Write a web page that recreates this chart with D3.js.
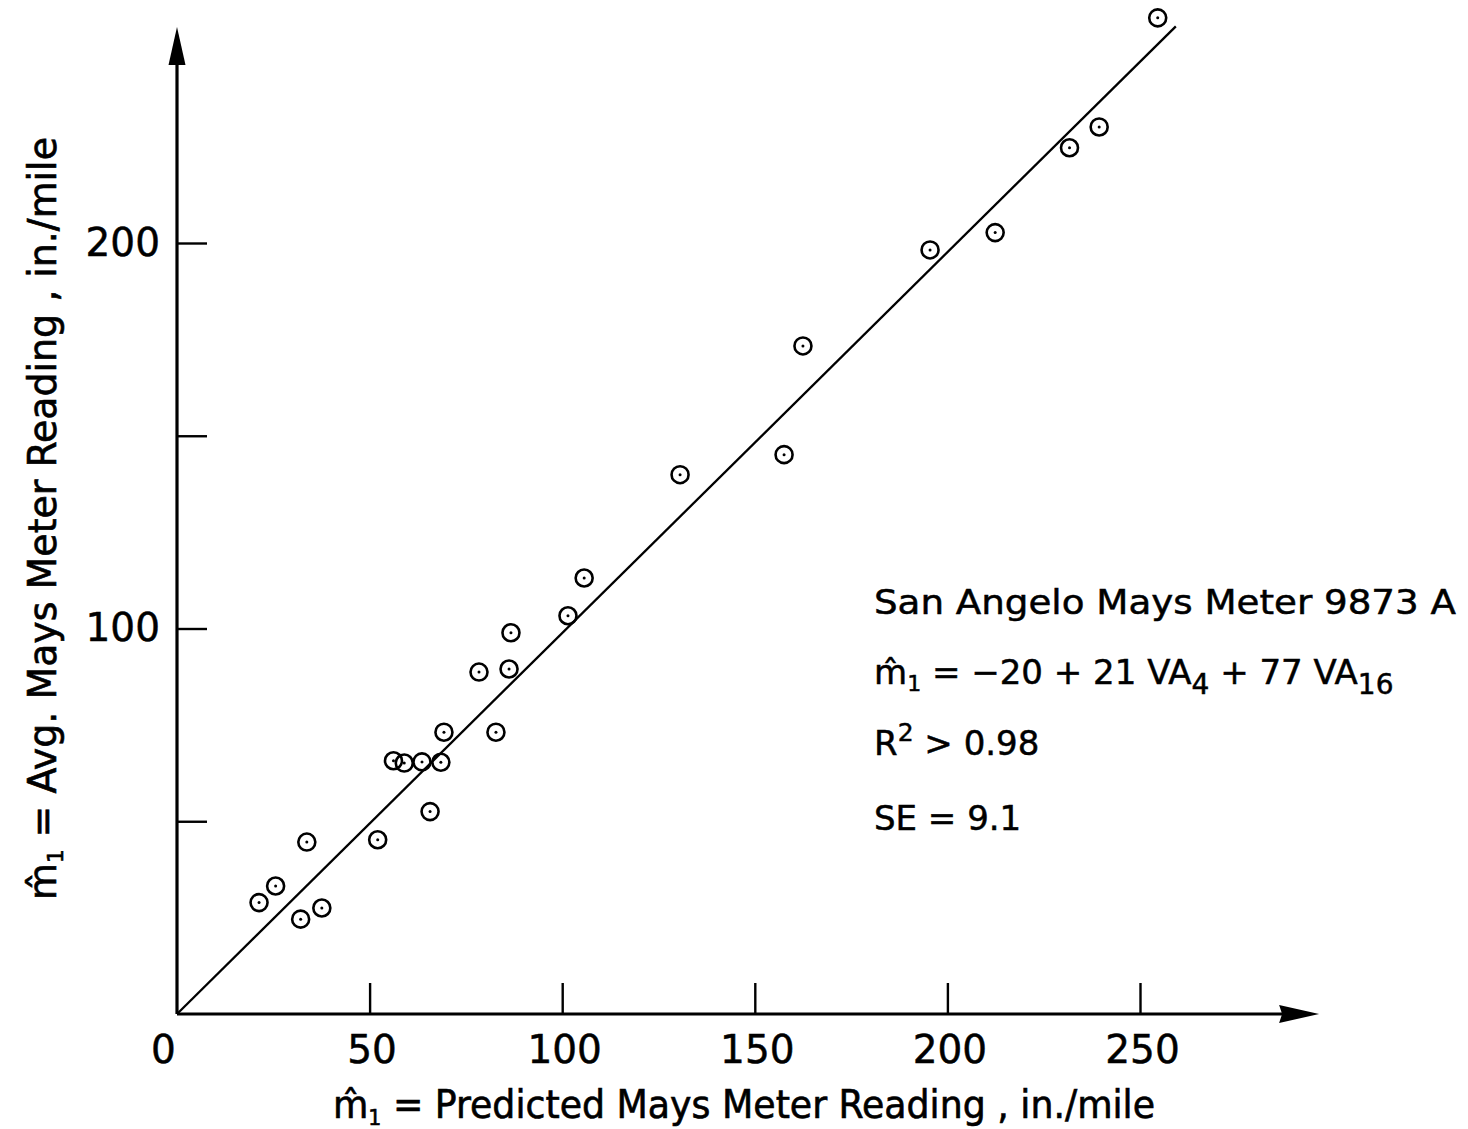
<!DOCTYPE html>
<html>
<head>
<meta charset="utf-8">
<script src="https://cdn.jsdelivr.net/npm/d3@7"></script>
<style>
  body { margin: 0; background: #fff; }
  svg { display: block; }
</style>
</head>
<body>
<svg class="maysplot"></svg>
<script>
var predicted = [21.3, 25.6, 32.1, 33.7, 37.6, 52.1, 56.2, 59.0, 63.6, 68.5,
                 65.7, 69.3, 82.8, 78.4, 86.2, 86.7, 101.5, 105.7, 130.6, 157.6,
                 162.5, 195.5, 212.4, 231.7, 239.4, 254.6];
var measured  = [28.9, 33.2, 24.6, 44.6, 27.5, 45.2, 65.7, 65.1, 65.4, 65.3,
                 52.5, 73.1, 73.1, 88.7, 89.5, 98.9, 103.3, 113.1, 139.9, 145.1,
                 173.3, 198.2, 202.7, 224.7, 230.1, 258.4];
var fitLine = [[0, 0], [259.3, 256.2]];
var xTicks = [0, 50, 100, 150, 200, 250];
var yTicks = [50, 100, 150, 200];
var yLabelled = [100, 200];
var xMax = 296.5, yMax = 256;

var w = 1468,
    h = 1129;

var svg = d3.select(".maysplot")
    .attr("width", w)
    .attr("height", h);

var x = d3.scaleLinear().domain([0, 250]).range([177, 1140]);
var y = d3.scaleLinear().domain([0, 200]).range([1014, 243]);

var numFont = "'DejaVu Sans', 'Open Sans', sans-serif";
var narrowFont = "'Liberation Sans Narrow', 'DejaVu Sans Condensed', 'DejaVu Sans', sans-serif";

// ---------- axes ----------
var xAxis = d3.axisBottom(x)
    .tickValues(xTicks)
    .tickSizeInner(-31)
    .tickSizeOuter(0)
    .tickPadding(21)
    .tickFormat(d3.format("d"));

var gx = svg.append("g")
    .attr("transform", "translate(0," + y(0) + ")")
    .call(xAxis);
gx.select(".domain").remove();
gx.selectAll(".tick line").attr("stroke", "#000").attr("stroke-width", 2.4)
    .filter(function(d) { return d === 0; }).remove();
gx.selectAll(".tick text")
    .attr("font-family", numFont)
    .attr("font-size", 39)
    .attr("fill", "#000")
    .attr("stroke", "#000")
    .attr("stroke-width", 0.5)
    .attr("dy", "0.71em")
    .attr("dx", function(d) { return d === 0 ? -14 : 2; });

var yAxis = d3.axisLeft(y)
    .tickValues(yTicks)
    .tickSizeInner(-30)
    .tickSizeOuter(0)
    .tickPadding(17)
    .tickFormat(function(d) { return yLabelled.indexOf(d) >= 0 ? d : ""; });

var gy = svg.append("g")
    .attr("transform", "translate(" + x(0) + ",0)")
    .call(yAxis);
gy.select(".domain").remove();
gy.selectAll(".tick line").attr("stroke", "#000").attr("stroke-width", 2.4);
gy.selectAll(".tick text")
    .attr("font-family", numFont)
    .attr("font-size", 39)
    .attr("fill", "#000")
    .attr("stroke", "#000")
    .attr("stroke-width", 0.5);

// axis lines with arrow heads
svg.append("line")
    .attr("x1", x(0)).attr("y1", y(0))
    .attr("x2", x(xMax) - 20).attr("y2", y(0))
    .attr("stroke", "#000").attr("stroke-width", 2.8);
svg.append("line")
    .attr("x1", x(0)).attr("y1", y(0))
    .attr("x2", x(0)).attr("y2", y(yMax) + 20)
    .attr("stroke", "#000").attr("stroke-width", 3.2);

svg.append("path")
    .attr("d", "M" + x(xMax) + "," + y(0) +
               "L" + (x(xMax) - 40) + "," + (y(0) - 9) +
               "L" + (x(xMax) - 37) + "," + y(0) +
               "L" + (x(xMax) - 40) + "," + (y(0) + 9) + "Z")
    .attr("fill", "#000");
svg.append("path")
    .attr("d", "M" + x(0) + "," + y(yMax) +
               "L" + (x(0) - 8.5) + "," + (y(yMax) + 38) +
               "L" + (x(0) + 8.5) + "," + (y(yMax) + 38) + "Z")
    .attr("fill", "#000");

// ---------- fitted line ----------
svg.append("path")
    .datum(fitLine)
    .attr("fill", "none")
    .attr("stroke", "#000")
    .attr("stroke-width", 2.3)
    .attr("d", d3.line()
        .x(function(d) { return x(d[0]); })
        .y(function(d) { return y(d[1]); }));

// ---------- points ----------
var pts = predicted.map(function(p, i) { return { p: p, m: measured[i] }; });

var gp = svg.append("g").attr("class", "points");
gp.selectAll("circle.ring")
    .data(pts)
    .enter().append("circle")
    .attr("class", "ring")
    .attr("cx", function(d) { return x(d.p); })
    .attr("cy", function(d) { return y(d.m); })
    .attr("r", 8.5)
    .attr("fill", "none")
    .attr("stroke", "#000")
    .attr("stroke-width", 2.6);
gp.selectAll("circle.dot")
    .data(pts)
    .enter().append("circle")
    .attr("class", "dot")
    .attr("cx", function(d) { return x(d.p); })
    .attr("cy", function(d) { return y(d.m); })
    .attr("r", 1.5)
    .attr("fill", "#000");

// ---------- axis titles ----------
var xt = svg.append("text")
    .attr("x", 333)
    .attr("y", 1118)
    .attr("font-family", narrowFont)
    .attr("font-size", 39)
    .attr("fill", "#000")
    .attr("stroke", "#000")
    .attr("stroke-width", 0.6)
    .attr("textLength", 822)
    .attr("lengthAdjust", "spacingAndGlyphs");
xt.append("tspan").text("m\u0302");
xt.append("tspan").attr("font-size", 22).attr("dy", 7).text("1");
xt.append("tspan").attr("dy", -7).text(" = Predicted  Mays  Meter  Reading , in./mile");

var yt = svg.append("text")
    .attr("transform", "translate(56,900) rotate(-90)")
    .attr("font-family", narrowFont)
    .attr("font-size", 39)
    .attr("fill", "#000")
    .attr("stroke", "#000")
    .attr("stroke-width", 0.6)
    .attr("textLength", 763)
    .attr("lengthAdjust", "spacingAndGlyphs");
yt.append("tspan").text("m\u0302");
yt.append("tspan").attr("font-size", 22).attr("dy", 7).text("1");
yt.append("tspan").attr("dy", -7).text(" = Avg.  Mays  Meter  Reading , in./mile");

// ---------- annotation ----------
var ax = 874;
var ann = svg.append("g")
    .attr("font-family", numFont)
    .attr("font-size", 34)
    .attr("fill", "#000")
    .attr("stroke", "#000")
    .attr("stroke-width", 0.5);

ann.append("text")
    .attr("x", ax).attr("y", 614)
    .attr("textLength", 582)
    .attr("lengthAdjust", "spacingAndGlyphs")
    .text("San Angelo Mays Meter 9873 A");

var eq = ann.append("text")
    .attr("x", ax).attr("y", 684);
eq.append("tspan").text("m\u0302");
eq.append("tspan").attr("font-size", 22).attr("dy", 7).text("1");
eq.append("tspan").attr("dy", -7).text(" = \u221220  + 21 VA");
eq.append("tspan").attr("font-size", 28).attr("dy", 10).text("4");
eq.append("tspan").attr("dy", -10).text(" + 77 VA");
eq.append("tspan").attr("font-size", 28).attr("dy", 10).text("16");

var r2 = ann.append("text")
    .attr("x", ax).attr("y", 755);
r2.append("tspan").text("R");
r2.append("tspan").attr("font-size", 25).attr("dy", -14).text("2");
r2.append("tspan").attr("dy", 14).text("  > 0.98");

ann.append("text")
    .attr("x", ax).attr("y", 830)
    .text("SE = 9.1");
</script>
</body>
</html>
